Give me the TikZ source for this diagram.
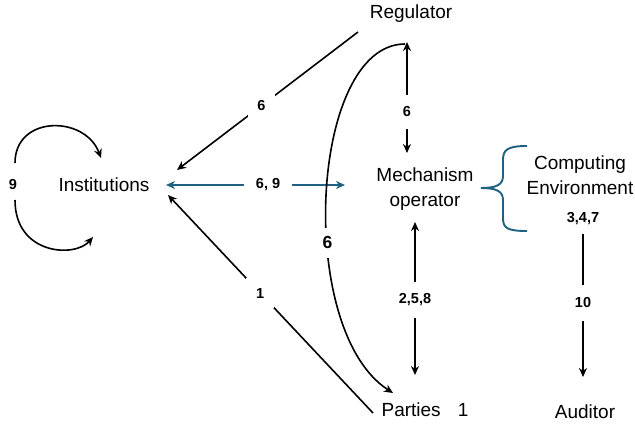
\documentclass[tikz,border=0pt]{standalone}
\usepackage{fontspec}
\setmainfont{Liberation Sans}
\usetikzlibrary{arrows.meta}
\definecolor{myblue}{RGB}{31,97,128}
\begin{document}
\begin{tikzpicture}[x=1pt,y=-1pt,
  txt/.style={font=\fontsize{19}{25}\selectfont, inner sep=0pt},
  lbl/.style={font=\bfseries\fontsize{14.5}{16}\selectfont, fill=white, inner sep=0pt},
  biglbl/.style={font=\bfseries\fontsize{17.5}{19}\selectfont, fill=white, inner sep=0pt},
  tipA/.tip={Stealth[length=9pt,width=8pt]},
  conn/.style={line width=1.6pt, -tipA},
  both/.style={line width=1.6pt, tipA-tipA},
  plain/.style={line width=1.6pt}]
\useasboundingbox (0,0) rectangle (635,429);

% text nodes
\node[txt] (reg) at (411,14) {Regulator};
\node[txt] (inst) at (104,185) {Institutions};
\node[txt, align=center] (mech) at (425,189) {Mechanism\\operator};
\node[txt, align=center] (comp) at (580,175) {Computing\\Environment};
\node[txt] (parties) at (425,410) {Parties\hspace{0.9em}1};
\node[txt] (aud) at (585,412) {Auditor};
\node[lbl, fill=none] (nine) at (13,185) {9};
\node[lbl, fill=none] (c347) at (583,219) {3,4,7};

% endpoints
\coordinate (regA) at (358,32);
\coordinate (instA) at (177,170);
\coordinate (partA) at (373,413);
\coordinate (instB) at (168,195);
\coordinate (instC) at (166,185);
\coordinate (mechA) at (345,185);
\coordinate (regB) at (407,42);
\coordinate (mechB) at (407,153);
\coordinate (mechC) at (415,222);
\coordinate (partB) at (415,375);
\coordinate (regC) at (405,44);
\coordinate (partC) at (393,393);
\coordinate (compA) at (583,234);
\coordinate (audA) at (583,377);
\coordinate (loopA) at (15,163);
\coordinate (loopB) at (101,158);
\coordinate (loopC) at (15,200);
\coordinate (loopD) at (93,237);
\coordinate (brT) at (527,146);
\coordinate (brM) at (481,188);
\coordinate (brB) at (527,231);

% connectors
\draw[conn] (regA) -- node[lbl, pos=0.533, inner sep=9pt] (l6a) {6} (instA);
\draw[conn] (partA) -- node[lbl, pos=0.55, inner sep=10pt] (l1) {1} (instB);
\draw[both, myblue] (instC) -- node[lbl, pos=0.57, inner xsep=12pt, text=black] (l69) {6, 9} (mechA);
\draw[both] (regB) -- node[lbl, pos=0.63, inner ysep=12pt] (l6b) {6} (mechB);
\draw[both] (mechC) -- node[lbl, pos=0.51, inner ysep=12pt] (l258) {2,5,8} (partB);
\draw[conn] (regC) .. controls (310,44) and (295,330) .. node[biglbl, pos=0.6, inner sep=9pt] (l6c) {6} (partC);
\draw[conn] (compA) -- node[lbl, pos=0.48, inner ysep=13pt] (l10) {10} (audA);
\draw[conn] (loopA) .. controls (15,115) and (85,115) .. (loopB);
\draw[conn] (loopC) .. controls (15,255) and (75,258) .. (loopD);

% brace
\draw[myblue, line width=1.9pt] (brT) .. controls (507,146) and (503,150) .. (503,160)
  -- (503,176) .. controls (503,185) and (496,188) .. (brM)
  .. controls (496,188) and (503,191) .. (503,200)
  -- (503,218) .. controls (503,228) and (507,231) .. (brB);
\end{tikzpicture}
\end{document}
